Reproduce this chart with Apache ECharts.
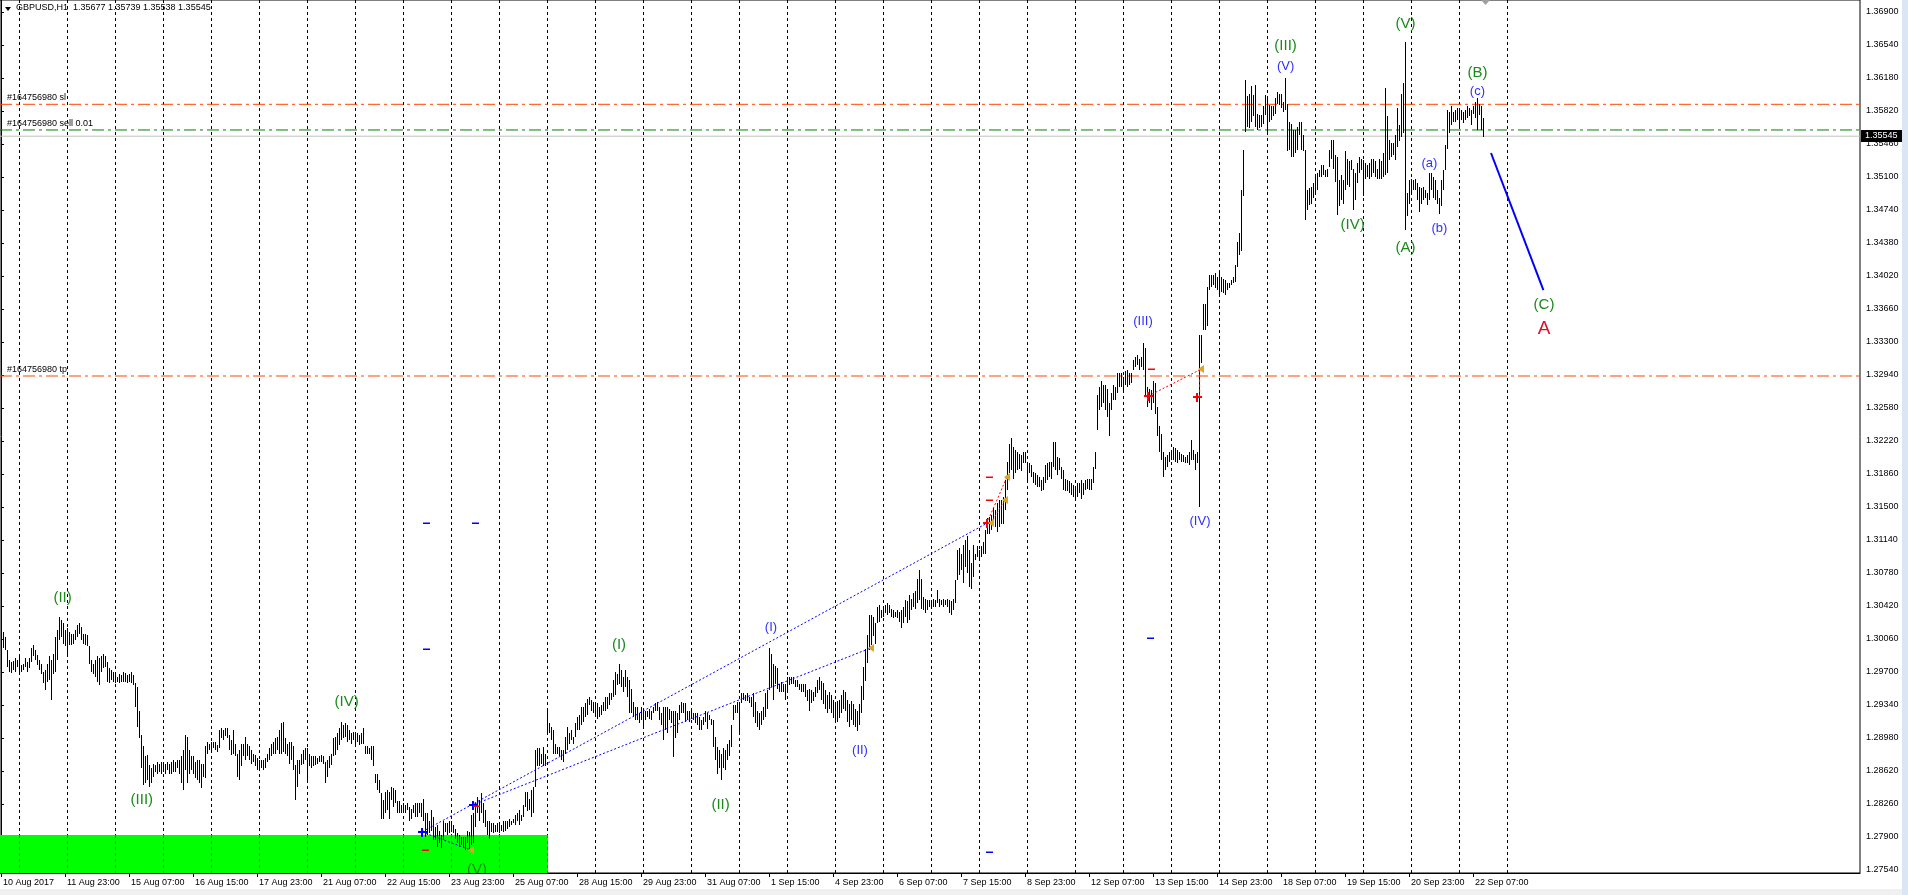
<!DOCTYPE html>
<html>
<head>
<meta charset="utf-8">
<title>GBPUSD,H1</title>
<script src="https://cdn.jsdelivr.net/npm/echarts@6/dist/echarts.min.js"></script>
<style>
html, body { margin: 0; padding: 0; background: #fff; }
#chart { width: 1908px; height: 895px; }
</style>
</head>
<body>
<div id="chart"></div>
<script>
// time axis labels, one every 32 hourly bars
const timeLabels = ['10 Aug 2017', '11 Aug 23:00', '15 Aug 07:00', '16 Aug 15:00', '17 Aug 23:00', '21 Aug 07:00',
  '22 Aug 15:00', '23 Aug 23:00', '25 Aug 07:00', '28 Aug 15:00', '29 Aug 23:00', '31 Aug 07:00',
  '1 Sep 15:00', '4 Sep 23:00', '6 Sep 07:00', '7 Sep 15:00', '8 Sep 23:00', '12 Sep 07:00',
  '13 Sep 15:00', '14 Sep 23:00', '18 Sep 07:00', '19 Sep 15:00', '20 Sep 23:00', '22 Sep 07:00'];

const priceTicks = [1.2754, 1.2790, 1.2826, 1.2862, 1.2898, 1.2934, 1.2970, 1.3006, 1.3042, 1.3078,
  1.3114, 1.3150, 1.3186, 1.3222, 1.3258, 1.3294, 1.3330, 1.3366, 1.3402, 1.3438, 1.3474, 1.3510,
  1.3546, 1.3582, 1.3618, 1.3654, 1.3690];

// H1 bars, 10 Aug 15:00 -> 22 Sep 12:00
const highs = [
1.3012,1.3014,1.3008,1.2994,1.2983,1.2981,1.2982,1.2985,1.2983,1.2987,
1.2978,1.2979,1.2985,1.2981,1.2985,1.2996,1.2999,1.2994,1.2989,1.2983,
1.2979,1.2970,1.2972,1.2979,1.2987,1.2983,1.2990,1.3008,1.3016,1.3030,
1.3027,1.3023,1.3016,1.3018,1.3014,1.3012,1.3012,1.3016,1.3021,1.3023,
1.3019,1.3012,1.3012,1.3010,1.2998,1.2983,1.2979,1.2983,1.2987,1.2985,
1.2988,1.2990,1.2988,1.2981,1.2974,1.2972,1.2970,1.2967,1.2965,1.2968,
1.2967,1.2970,1.2969,1.2967,1.2968,1.2970,1.2967,1.2958,1.2954,1.2927,
1.2901,1.2889,1.2878,1.2879,1.2869,1.2865,1.2870,1.2869,1.2872,1.2870,
1.2872,1.2872,1.2870,1.2872,1.2870,1.2872,1.2874,1.2872,1.2874,1.2874,
1.2878,1.2885,1.2901,1.2899,1.2885,1.2878,1.2878,1.2872,1.2874,1.2874,
1.2870,1.2870,1.2889,1.2894,1.2892,1.2894,1.2894,1.2894,1.2890,1.2907,
1.2909,1.2907,1.2909,1.2909,1.2901,1.2896,1.2907,1.2892,1.2881,1.2885,
1.2892,1.2892,1.2899,1.2892,1.2889,1.2885,1.2881,1.2879,1.2876,1.2874,
1.2874,1.2874,1.2876,1.2881,1.2887,1.2892,1.2894,1.2898,1.2899,1.2907,
1.2914,1.2916,1.2898,1.2892,1.2894,1.2894,1.2889,1.2869,1.2874,1.2874,
1.2881,1.2885,1.2887,1.2887,1.2881,1.2878,1.2878,1.2878,1.2876,1.2878,
1.2879,1.2878,1.2872,1.2874,1.2878,1.2881,1.2898,1.2899,1.2903,1.2909,
1.2916,1.2912,1.2914,1.2912,1.2907,1.2903,1.2905,1.2901,1.2903,1.2901,
1.2903,1.2909,1.2889,1.2889,1.2887,1.2889,1.2889,1.2859,1.2859,1.2852,
1.2838,1.2830,1.2839,1.2841,1.2839,1.2845,1.2843,1.2841,1.2829,1.2829,
1.2825,1.2827,1.2825,1.2827,1.2823,1.2821,1.2825,1.2827,1.2827,1.2827,
1.2827,1.2832,1.2816,1.2816,1.2808,1.2819,1.2812,1.2801,1.2803,1.2797,
1.2792,1.2807,1.2805,1.2805,1.2807,1.2807,1.2803,1.2799,1.2794,1.2792,
1.2790,1.2790,1.2790,1.2797,1.2796,1.2814,1.2816,1.2827,1.2834,1.2830,
1.2838,1.2827,1.2819,1.2807,1.2807,1.2805,1.2805,1.2803,1.2805,1.2803,
1.2803,1.2807,1.2808,1.2807,1.2810,1.2808,1.2810,1.2814,1.2816,1.2819,
1.2814,1.2825,1.2839,1.2839,1.2832,1.2841,1.2845,1.2885,1.2887,1.2887,
1.2881,1.2888,1.2881,1.2930,1.2914,1.2910,1.2907,1.2892,1.2888,1.2888,
1.2885,1.2885,1.2899,1.2910,1.2903,1.2907,1.2899,1.2914,1.2921,1.2923,
1.2932,1.2932,1.2936,1.2941,1.2943,1.2939,1.2937,1.2936,1.2936,1.2932,
1.2934,1.2937,1.2943,1.2943,1.2947,1.2947,1.2961,1.2970,1.2968,1.2979,
1.2972,1.2965,1.2972,1.2965,1.2961,1.2952,1.2937,1.2932,1.2932,1.2925,
1.2932,1.2928,1.2928,1.2928,1.2930,1.2927,1.2932,1.2936,1.2937,1.2932,
1.2925,1.2932,1.2932,1.2932,1.2930,1.2928,1.2928,1.2927,1.2925,1.2934,
1.2937,1.2936,1.2936,1.2927,1.2927,1.2930,1.2925,1.2925,1.2925,1.2921,
1.2918,1.2921,1.2927,1.2925,1.2923,1.2919,1.2918,1.2899,1.2888,1.2885,
1.2881,1.2887,1.2885,1.2892,1.2896,1.2912,1.2934,1.2934,1.2937,1.2937,
1.2947,1.2947,1.2945,1.2947,1.2943,1.2943,1.2947,1.2937,1.2927,1.2925,
1.2928,1.2932,1.2947,1.2950,1.2996,1.2990,1.2979,1.2977,1.2974,1.2957,
1.2959,1.2957,1.2957,1.2965,1.2965,1.2965,1.2965,1.2961,1.2961,1.2957,
1.2957,1.2957,1.2957,1.2950,1.2952,1.2950,1.2948,1.2954,1.2961,1.2965,
1.2960,1.2958,1.2950,1.2945,1.2948,1.2945,1.2940,1.2935,1.2938,1.2940,
1.2945,1.2950,1.2948,1.2940,1.2935,1.2938,1.2935,1.2930,1.2928,1.2935,
1.2955,1.2975,1.2995,1.3010,1.3032,1.3032,1.3030,1.3023,1.3041,1.3043,
1.3038,1.3041,1.3043,1.3045,1.3043,1.3039,1.3038,1.3036,1.3038,1.3036,
1.3038,1.3041,1.3049,1.3047,1.3054,1.3050,1.3056,1.3058,1.3072,1.3081,
1.3072,1.3052,1.3050,1.3049,1.3049,1.3049,1.3050,1.3049,1.3059,1.3050,
1.3049,1.3050,1.3049,1.3050,1.3049,1.3047,1.3050,1.3070,1.3103,1.3105,
1.3099,1.3109,1.3114,1.3118,1.3103,1.3089,1.3109,1.3099,1.3107,1.3103,
1.3107,1.3112,1.3125,1.3138,1.3139,1.3141,1.3149,1.3147,1.3154,1.3158,
1.3158,1.3161,1.3179,1.3199,1.3219,1.3225,1.3216,1.3212,1.3210,1.3208,
1.3207,1.3210,1.3210,1.3199,1.3198,1.3196,1.3188,1.3187,1.3185,1.3183,
1.3179,1.3183,1.3196,1.3198,1.3199,1.3199,1.3221,1.3221,1.3205,1.3203,
1.3194,1.3190,1.3181,1.3179,1.3178,1.3176,1.3174,1.3172,1.3176,1.3176,
1.3179,1.3176,1.3179,1.3181,1.3181,1.3181,1.3194,1.3210,1.3272,1.3281,
1.3288,1.3283,1.3283,1.3279,1.3263,1.3274,1.3283,1.3281,1.3296,1.3296,
1.3296,1.3292,1.3298,1.3299,1.3296,1.3296,1.3310,1.3314,1.3316,1.3312,
1.3314,1.3329,1.3323,1.3281,1.3279,1.3278,1.3288,1.3285,1.3259,1.3238,
1.3230,1.3210,1.3205,1.3207,1.3210,1.3212,1.3216,1.3214,1.3212,1.3210,
1.3208,1.3207,1.3205,1.3207,1.3210,1.3223,1.3212,1.3208,1.3210,1.3338,
1.3338,1.3372,1.3372,1.3390,1.3403,1.3403,1.3403,1.3405,1.3401,1.3405,
1.3401,1.3399,1.3398,1.3394,1.3394,1.3398,1.3401,1.3414,1.3439,1.3449,
1.3496,1.3539,1.3616,1.3598,1.3601,1.3609,1.3599,1.3610,1.3579,1.3578,
1.3578,1.3587,1.3599,1.3598,1.3589,1.3587,1.3587,1.3596,1.3603,1.3601,
1.3601,1.3592,1.3618,1.3590,1.3570,1.3568,1.3561,1.3561,1.3565,1.3570,
1.3570,1.3556,1.3539,1.3496,1.3498,1.3499,1.3503,1.3510,1.3514,1.3518,
1.3523,1.3523,1.3518,1.3519,1.3539,1.3550,1.3550,1.3534,1.3532,1.3507,
1.3512,1.3507,1.3538,1.3530,1.3527,1.3528,1.3519,1.3514,1.3525,1.3532,
1.3530,1.3528,1.3525,1.3523,1.3525,1.3530,1.3530,1.3527,1.3519,1.3530,
1.3527,1.3536,1.3607,1.3576,1.3550,1.3547,1.3547,1.3556,1.3585,1.3567,
1.3601,1.3612,1.3657,1.3492,1.3507,1.3508,1.3507,1.3508,1.3503,1.3499,
1.3498,1.3499,1.3496,1.3492,1.3514,1.3514,1.3510,1.3507,1.3496,1.3487,
1.3507,1.3518,1.3545,1.3583,1.3581,1.3587,1.3581,1.3583,1.3585,1.3585,
1.3583,1.3581,1.3583,1.3587,1.3585,1.3583,1.3587,1.3592,1.3596,1.3590,
1.3587,1.35739
];
const lows = [
1.2985,1.2996,1.2994,1.2976,1.2970,1.2969,1.2972,1.2970,1.2976,1.2968,
1.2970,1.2972,1.2976,1.2970,1.2974,1.2981,1.2987,1.2983,1.2978,1.2972,
1.2968,1.2958,1.2950,1.2959,1.2961,1.2939,1.2968,1.2970,1.2983,1.3005,
1.3008,1.3001,1.2998,1.2987,1.2999,1.2999,1.3001,1.3005,1.3008,1.3012,
1.3005,1.3001,1.2999,1.2998,1.2979,1.2970,1.2968,1.2965,1.2959,1.2956,
1.2970,1.2974,1.2976,1.2959,1.2958,1.2961,1.2959,1.2958,1.2959,1.2958,
1.2959,1.2959,1.2959,1.2958,1.2959,1.2958,1.2956,1.2932,1.2910,1.2898,
1.2865,1.2847,1.2849,1.2852,1.2845,1.2849,1.2856,1.2861,1.2859,1.2861,
1.2859,1.2861,1.2859,1.2863,1.2859,1.2859,1.2861,1.2861,1.2865,1.2859,
1.2849,1.2841,1.2863,1.2849,1.2859,1.2863,1.2859,1.2854,1.2852,1.2849,
1.2843,1.2856,1.2854,1.2881,1.2885,1.2883,1.2887,1.2885,1.2883,1.2887,
1.2898,1.2896,1.2900,1.2898,1.2885,1.2879,1.2881,1.2878,1.2856,1.2852,
1.2867,1.2878,1.2874,1.2878,1.2874,1.2870,1.2872,1.2867,1.2863,1.2863,
1.2865,1.2863,1.2865,1.2872,1.2874,1.2878,1.2881,1.2881,1.2885,1.2881,
1.2881,1.2883,1.2881,1.2878,1.2870,1.2874,1.2863,1.2830,1.2845,1.2859,
1.2869,1.2870,1.2874,1.2849,1.2867,1.2865,1.2867,1.2869,1.2870,1.2872,
1.2872,1.2870,1.2849,1.2856,1.2865,1.2869,1.2878,1.2879,1.2885,1.2890,
1.2896,1.2898,1.2899,1.2894,1.2896,1.2892,1.2896,1.2892,1.2894,1.2890,
1.2892,1.2892,1.2881,1.2881,1.2881,1.2874,1.2867,1.2849,1.2841,1.2838,
1.2810,1.2810,1.2816,1.2819,1.2810,1.2830,1.2823,1.2827,1.2816,1.2816,
1.2816,1.2816,1.2816,1.2819,1.2807,1.2810,1.2816,1.2812,1.2812,1.2816,
1.2812,1.2808,1.2790,1.2792,1.2794,1.2797,1.2787,1.2787,1.2779,1.2783,
1.2778,1.2787,1.2796,1.2792,1.2794,1.2796,1.2794,1.2788,1.2783,1.2779,
1.2781,1.2778,1.2776,1.2783,1.2776,1.2781,1.2783,1.2801,1.2816,1.2808,
1.2816,1.2805,1.2801,1.2792,1.2788,1.2796,1.2794,1.2796,1.2796,1.2794,
1.2797,1.2796,1.2797,1.2799,1.2801,1.2803,1.2805,1.2803,1.2808,1.2803,
1.2808,1.2812,1.2823,1.2818,1.2819,1.2812,1.2816,1.2845,1.2868,1.2867,
1.2870,1.2867,1.2867,1.2903,1.2903,1.2896,1.2881,1.2881,1.2881,1.2878,
1.2874,1.2872,1.2881,1.2885,1.2892,1.2896,1.2892,1.2899,1.2907,1.2907,
1.2912,1.2916,1.2921,1.2923,1.2934,1.2927,1.2925,1.2923,1.2919,1.2921,
1.2923,1.2927,1.2928,1.2930,1.2934,1.2939,1.2943,1.2945,1.2956,1.2957,
1.2954,1.2948,1.2954,1.2943,1.2925,1.2925,1.2921,1.2918,1.2918,1.2914,
1.2918,1.2908,1.2918,1.2921,1.2919,1.2918,1.2925,1.2927,1.2928,1.2918,
1.2912,1.2896,1.2907,1.2903,1.2918,1.2914,1.2877,1.2898,1.2903,1.2918,
1.2925,1.2925,1.2916,1.2918,1.2916,1.2919,1.2918,1.2914,1.2912,1.2907,
1.2907,1.2912,1.2916,1.2908,1.2918,1.2912,1.2888,1.2874,1.2859,1.2865,
1.2852,1.2865,1.2863,1.2874,1.2878,1.2888,1.2918,1.2925,1.2925,1.2903,
1.2936,1.2939,1.2938,1.2938,1.2936,1.2932,1.2921,1.2914,1.2910,1.2907,
1.2912,1.2918,1.2921,1.2930,1.2950,1.2954,1.2939,1.2957,1.2952,1.2948,
1.2948,1.2948,1.2939,1.2947,1.2956,1.2957,1.2957,1.2954,1.2954,1.2950,
1.2948,1.2948,1.2943,1.2938,1.2928,1.2936,1.2938,1.2943,1.2947,1.2950,
1.2940,1.2935,1.2930,1.2925,1.2930,1.2925,1.2920,1.2918,1.2915,1.2920,
1.2925,1.2930,1.2928,1.2915,1.2910,1.2918,1.2912,1.2910,1.2906,1.2912,
1.2925,1.2940,1.2960,1.2980,1.2994,1.2999,1.3009,1.3001,1.3023,1.3025,
1.3029,1.3030,1.3034,1.3032,1.3034,1.3030,1.3029,1.3030,1.3029,1.3025,
1.3018,1.3023,1.3030,1.3023,1.3027,1.3038,1.3041,1.3039,1.3045,1.3049,
1.3039,1.3038,1.3034,1.3038,1.3041,1.3039,1.3041,1.3041,1.3045,1.3041,
1.3043,1.3041,1.3043,1.3041,1.3034,1.3032,1.3038,1.3045,1.3070,1.3076,
1.3081,1.3067,1.3085,1.3078,1.3063,1.3061,1.3074,1.3092,1.3096,1.3092,
1.3096,1.3099,1.3099,1.3121,1.3121,1.3125,1.3132,1.3128,1.3123,1.3128,
1.3132,1.3132,1.3147,1.3169,1.3187,1.3190,1.3181,1.3187,1.3190,1.3192,
1.3189,1.3198,1.3198,1.3176,1.3187,1.3183,1.3176,1.3174,1.3172,1.3172,
1.3167,1.3169,1.3176,1.3179,1.3183,1.3181,1.3194,1.3190,1.3185,1.3190,
1.3181,1.3169,1.3167,1.3167,1.3165,1.3163,1.3161,1.3158,1.3161,1.3165,
1.3159,1.3163,1.3169,1.3170,1.3169,1.3169,1.3176,1.3192,1.3234,1.3256,
1.3259,1.3263,1.3256,1.3248,1.3227,1.3256,1.3267,1.3267,1.3274,1.3281,
1.3281,1.3278,1.3283,1.3281,1.3283,1.3285,1.3299,1.3303,1.3305,1.3299,
1.3303,1.3299,1.3270,1.3259,1.3263,1.3256,1.3263,1.3252,1.3227,1.3210,
1.3201,1.3183,1.3190,1.3194,1.3199,1.3201,1.3201,1.3199,1.3198,1.3201,
1.3199,1.3199,1.3198,1.3198,1.3196,1.3201,1.3201,1.3190,1.3198,1.3150,
1.3307,1.3343,1.3343,1.3347,1.3387,1.3390,1.3392,1.3389,1.3387,1.3381,
1.3385,1.3383,1.3381,1.3387,1.3389,1.3392,1.3394,1.3396,1.3412,1.3425,
1.3429,1.3489,1.3559,1.3565,1.3563,1.3570,1.3576,1.3565,1.3561,1.3563,
1.3565,1.3568,1.3578,1.3556,1.3570,1.3572,1.3576,1.3579,1.3590,1.3589,
1.3585,1.3581,1.3583,1.3538,1.3539,1.3532,1.3532,1.3536,1.3539,1.3556,
1.3539,1.3538,1.3463,1.3474,1.3479,1.3481,1.3487,1.3494,1.3496,1.3510,
1.3510,1.3512,1.3510,1.3510,1.3521,1.3530,1.3519,1.3505,1.3469,1.3478,
1.3485,1.3481,1.3496,1.3501,1.3499,1.3518,1.3474,1.3485,1.3503,1.3514,
1.3518,1.3489,1.3508,1.3510,1.3508,1.3510,1.3514,1.3510,1.3508,1.3508,
1.3508,1.3510,1.3512,1.3514,1.3528,1.3532,1.3534,1.3528,1.3543,1.3549,
1.3554,1.3558,1.3452,1.3467,1.3481,1.3492,1.3496,1.3496,1.3485,1.3472,
1.3481,1.3485,1.3487,1.3479,1.3485,1.3496,1.3487,1.3485,1.3481,1.3470,
1.3478,1.3496,1.3518,1.3541,1.3558,1.3567,1.3570,1.3570,1.3572,1.3563,
1.3572,1.3569,1.3572,1.3574,1.3576,1.3567,1.3579,1.3574,1.3561,1.3578,
1.3561,1.35538
];

const lastBar = { open: 1.35677, high: 1.35739, low: 1.35538, close: 1.35545 };
const orderTicket = '#164756980';
const orderPrices = [1.35893, 1.35613, 1.32929];
const orderTexts = [orderTicket + ' sl', orderTicket + ' sell 0.01', orderTicket + ' tp'];

// Elliott wave labels: [bar index, price, text, kind]
const waveLabels = [
  [30.8, 1.30507, '(II)', 'g'], [70.4, 1.28304, '(III)', 'g'], [172.8, 1.29376, '(IV)', 'g'],
  [238, 1.2754, '(V)', 'g'], [309, 1.29995, '(I)', 'g'], [359.8, 1.28249, '(II)', 'g'],
  [385, 1.30191, '(I)', 'b'], [429.5, 1.28849, '(II)', 'b'], [571, 1.33521, '(III)', 'b'],
  [599.5, 1.31347, '(IV)', 'b'], [642.3, 1.36532, '(III)', 'g'], [642.3, 1.36303, '(V)', 'b'],
  [675.8, 1.34576, '(IV)', 'g'], [702.2, 1.36769, '(V)', 'g'], [702.2, 1.34325, '(A)', 'g'],
  [714.2, 1.35249, '(a)', 'b'], [719.2, 1.34540, '(b)', 'b'], [738.2, 1.36238, '(B)', 'g'],
  [738.2, 1.36031, '(c)', 'b'], [771.5, 1.33704, '(C)', 'g'], [771.5, 1.33447, 'A', 'r']
];

// support zone (bar from, bar to, top price)
const zone = [-0.5, 273.5, 1.27922];

// trade arrows and order marks: [bar index, price, kind]
const tradeMarks = [
  [210.4, 1.27955, 'plusB'], [235.9, 1.28249, 'plusB'],
  [492.9, 1.31322, 'plusR'], [573.7, 1.32711, 'plusR'], [597.9, 1.32703, 'plusR'],
  [235, 1.27758, 'tri'], [434.9, 1.29962, 'tri'], [502.9, 1.31824, 'tri'], [501.9, 1.31576, 'tri'],
  [494.9, 1.31322, 'tri'], [599.9, 1.33002, 'tri'],
  [212.5, 1.31325, 'dashB'], [236.8, 1.31325, 'dashB'], [212.5, 1.29955, 'dashB'],
  [574.5, 1.30075, 'dashB'], [494, 1.27736, 'dashB'],
  [212, 1.27758, 'dashR'], [237.5, 1.28238, 'dashR'], [494.2, 1.31824, 'dashR'],
  [494.2, 1.31576, 'dashR'], [575, 1.33006, 'dashR']
];

const blueTrend = [
  [[210.4, 1.27955], [492.9, 1.31322]],
  [[235.9, 1.28249], [434.9, 1.29962]],
  [[210.4, 1.27955], [235, 1.27758]]
];
const redTrend = [
  [[492.9, 1.31322], [502.9, 1.31824]],
  [[494.9, 1.31322], [501.9, 1.31576]],
  [[573.7, 1.32711], [599.9, 1.33002]]
];
const forecast = [[745, 1.35362], [771.2, 1.33867]];

const FONT = '"Liberation Sans", Arial, sans-serif';
const yMin = 1.275073, yMax = 1.370309;
const slots = 930;
const xLo = -0.5, xHi = slots - 0.5;

const labelBars = timeLabels.map((t, k) => k * 32);
const separators = [];
for (let i = 9; i <= 753; i += 24) separators.push([i]);

const lineSeries = (pts, color, type, width, z) => ({
  type: 'line', data: pts, symbol: 'none', silent: true, z: z || 6, animation: false,
  lineStyle: { color: color, type: type, width: width }
});

const chart = echarts.init(document.getElementById('chart'));

const option = {
  animation: false,
  backgroundColor: '#fff',
  grid: { left: 0, top: 0, right: 48, bottom: 22, show: true, borderColor: '#000', borderWidth: 1, backgroundColor: '#fff' },
  xAxis: {
    type: 'value', min: xLo, max: xHi,
    axisLine: { show: true, lineStyle: { color: '#000' } },
    splitLine: { show: false },
    axisTick: { show: true, customValues: labelBars, length: 4, lineStyle: { color: '#000' } },
    axisLabel: {
      customValues: labelBars, align: 'left', margin: 5, padding: [0, 0, 0, 2],
      color: '#000', fontSize: 9, fontFamily: FONT,
      formatter: v => timeLabels[Math.round(v / 32)] || ''
    }
  },
  yAxis: {
    type: 'value', position: 'right', min: yMin, max: yMax,
    axisLine: { show: true, lineStyle: { color: '#000' } },
    splitLine: { show: false },
    axisTick: { show: true, customValues: priceTicks, length: 3, lineStyle: { color: '#000' } },
    axisLabel: {
      customValues: priceTicks, align: 'left', margin: 6,
      color: '#000', fontSize: 9, fontFamily: FONT,
      formatter: v => v.toFixed(5)
    }
  },
  graphic: [
    { type: 'rect', shape: { x: 0, y: 889, width: 1908, height: 6 }, style: { fill: '#f0f0f0' }, silent: true },
    { type: 'rect', shape: { x: 1902, y: 0, width: 6, height: 895 }, style: { fill: '#dbe6f4' }, silent: true },
    { type: 'polygon', shape: { points: [[5, 7], [11, 7], [8, 11]] }, style: { fill: '#000' }, silent: true },
    { type: 'text', x: 16, y: 8, silent: true,
      style: { text: 'GBPUSD,H1  ' + [lastBar.open, lastBar.high, lastBar.low, lastBar.close].map(v => v.toFixed(5)).join(' '),
        fill: '#000', font: '9px ' + FONT, verticalAlign: 'middle' } },
    { type: 'polygon', shape: { points: [[1481, 0], [1490, 0], [1485.5, 5]] }, style: { fill: '#a0a0a0' }, silent: true }
  ],
  series: [
    {
      // support zone
      type: 'custom', z: 1, silent: true, clip: true,
      data: [zone],
      renderItem: (params, api) => {
        const p1 = api.coord([api.value(0), api.value(2)]);
        const p2 = api.coord([api.value(1), yMin]);
        return { type: 'rect', shape: { x: p1[0], y: Math.round(p1[1]), width: p2[0] - p1[0], height: p2[1] - Math.round(p1[1]) },
          style: { fill: '#00ff00' } };
      }
    },
    {
      // day separators
      type: 'custom', z: 2, silent: true, clip: true,
      data: separators,
      renderItem: (params, api) => {
        const cs = params.coordSys;
        const idx = api.value(0);
        const x = Math.round(api.coord([idx, yMin])[0]) + 0.5;
        const bottom = cs.y + cs.height;
        const inZone = idx <= zone[1];
        const yz = inZone ? Math.round(api.coord([idx, zone[2]])[1]) : bottom;
        const kids = [{ type: 'line', shape: { x1: x, y1: cs.y, x2: x, y2: yz }, style: { stroke: '#000', lineWidth: 1, lineDash: [3, 3] } }];
        if (inZone) kids.push({ type: 'line', shape: { x1: x, y1: yz, x2: x, y2: bottom }, style: { stroke: '#ff00ff', lineWidth: 1, lineDash: [3, 3] } });
        return { type: 'group', children: kids };
      }
    },
    // bid line and order lines
    lineSeries([[xLo, lastBar.close], [xHi, lastBar.close]], '#c0c0c0', 'solid', 1, 2),
    lineSeries([[xLo, orderPrices[0]], [xHi, orderPrices[0]]], '#ff4500', [12, 4, 3, 4], 1, 2),
    lineSeries([[xLo, orderPrices[1]], [xHi, orderPrices[1]]], '#008000', [12, 4, 3, 4], 1, 2),
    lineSeries([[xLo, orderPrices[2]], [xHi, orderPrices[2]]], '#ff4500', [12, 4, 3, 4], 1, 2),
    {
      // order texts
      type: 'custom', z: 7, silent: true, clip: true,
      data: orderPrices.map(p => [xLo, p]),
      renderItem: (params, api) => {
        const p = api.coord([api.value(0), api.value(1)]);
        return { type: 'text', x: p[0] + 7, y: Math.round(p[1]) - 6,
          style: { text: orderTexts[params.dataIndex], fill: '#000', font: '9px ' + FONT, align: 'left', verticalAlign: 'middle' } };
      }
    },
    {
      // bid price box on the price scale
      type: 'custom', z: 9, silent: true, clip: false,
      data: [[xHi, lastBar.close]],
      renderItem: (params, api) => {
        const p = api.coord([api.value(0), api.value(1)]);
        const y = Math.round(p[1]);
        return { type: 'group', children: [
          { type: 'rect', shape: { x: p[0] + 1, y: y - 6, width: 41, height: 12 }, style: { fill: '#000' } },
          { type: 'text', x: p[0] + 5, y: y, style: { text: lastBar.close.toFixed(5), fill: '#fff', font: '9px ' + FONT, align: 'left', verticalAlign: 'middle' } }
        ] };
      }
    },
    {
      // price bars
      type: 'custom', z: 3, silent: true, clip: true,
      data: highs.map((h, i) => [i, h, lows[i]]),
      renderItem: (params, api) => {
        const top = api.coord([api.value(0), api.value(1)]);
        const bot = api.coord([api.value(0), api.value(2)]);
        const x = Math.round(top[0]) + 0.5;
        let y1 = Math.round(top[1]), y2 = Math.round(bot[1]);
        if (y2 - y1 < 1) y2 = y1 + 1;
        return { type: 'line', shape: { x1: x, y1: y1, x2: x, y2: y2 }, style: { stroke: '#000', lineWidth: 1 } };
      }
    },
    ...blueTrend.map(p => lineSeries(p, '#0000ff', [2, 2], 1)),
    ...redTrend.map(p => lineSeries(p, '#ff0000', [2, 2], 1)),
    lineSeries([[599.3, 1.33002], [599.3, 1.32703]], '#ff0000', [3, 2], 1),
    lineSeries(forecast, '#0000ff', 'solid', 2),
    {
      // trade marks
      type: 'custom', z: 7, silent: true, clip: true,
      data: tradeMarks,
      renderItem: (params, api) => {
        const p = api.coord([api.value(0), api.value(1)]);
        const kind = tradeMarks[params.dataIndex][2];
        const x = Math.round(p[0]), y = Math.round(p[1]);
        if (kind === 'plusB' || kind === 'plusR') {
          const c = kind === 'plusB' ? '#0000ff' : '#ff0000';
          return { type: 'group', children: [
            { type: 'rect', shape: { x: x - 4, y: y - 1, width: 9, height: 2 }, style: { fill: c } },
            { type: 'rect', shape: { x: x - 1, y: y - 4, width: 2, height: 9 }, style: { fill: c } }
          ] };
        }
        if (kind === 'tri') {
          return { type: 'polygon', shape: { points: [[x - 3, y], [x + 3, y - 4], [x + 3, y + 4]] }, style: { fill: '#daa520' } };
        }
        const c = kind === 'dashB' ? '#0000ff' : '#ff0000';
        return { type: 'rect', shape: { x: x - 3, y: y - 0.5, width: 7, height: 1.5 }, style: { fill: c } };
      }
    },
    {
      // wave labels
      type: 'custom', z: 8, silent: true, clip: true,
      data: waveLabels.map(w => [w[0], w[1]]),
      renderItem: (params, api) => {
        const p = api.coord([api.value(0), api.value(1)]);
        const w = waveLabels[params.dataIndex];
        const style = w[3] === 'g' ? { fill: '#1b8a1b', font: '15px ' + FONT }
          : w[3] === 'b' ? { fill: '#2f2fff', font: '13px ' + FONT }
          : { fill: '#e0102a', font: '19px ' + FONT };
        return { type: 'text', x: p[0], y: p[1],
          style: Object.assign({ text: w[2], align: 'center', verticalAlign: 'middle' }, style) };
      }
    }
  ]
};

chart.setOption(option);
</script>
</body>
</html>
